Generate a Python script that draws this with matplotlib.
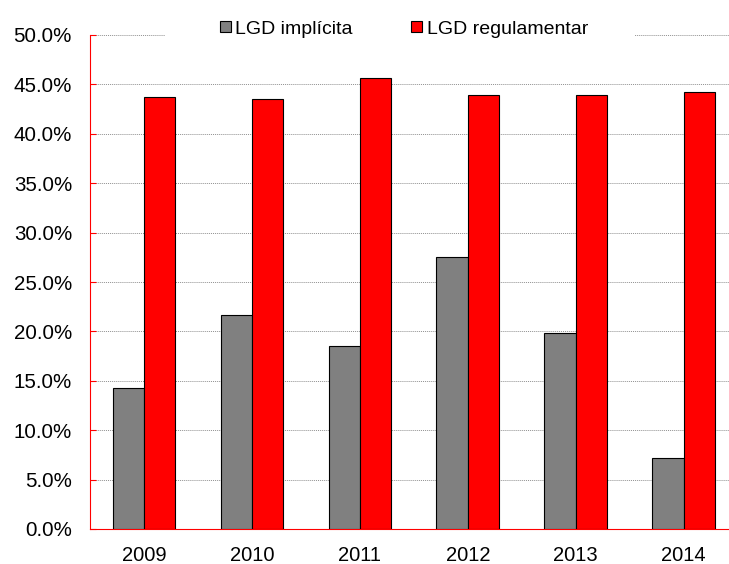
import numpy as np
import matplotlib.pyplot as plt
from matplotlib.ticker import FuncFormatter
from matplotlib.patches import Rectangle

years = ['2009', '2010', '2011', '2012', '2013', '2014']
lgd_implicita = [14.3, 21.7, 18.5, 27.5, 19.8, 7.2]
lgd_regulamentar = [43.7, 43.5, 45.6, 43.9, 43.9, 44.2]

plt.rcParams['font.family'] = ['Liberation Sans', 'DejaVu Sans']

W, H = 729, 564
fig = plt.figure(figsize=(W / 100, H / 100), dpi=100)
ax = fig.add_axes([90 / W, (H - 529) / H, 1 - 90 / W, (529 - 35) / H])

x = np.arange(len(years))
w = 0.29
ax.bar(x - w / 2, lgd_implicita, w, color='#808080', edgecolor='black', linewidth=0.8,
       label='LGD implícita', zorder=3)
ax.bar(x + w / 2, lgd_regulamentar, w, color='#ff0000', edgecolor='black', linewidth=0.8,
       label='LGD regulamentar', zorder=3)

ax.set_ylim(0, 50)
ax.set_yticks(np.arange(0, 50.1, 5))
ax.yaxis.set_major_formatter(FuncFormatter(lambda v, p: f'{v:.1f}%'))
ax.set_xlim(-0.5, 5.42)
ax.set_xticks(x)
ax.set_xticklabels(years)

ax.grid(axis='y', color='#909090', linestyle=(0, (1, 1)), linewidth=0.7, zorder=0)
for s in ['top', 'right']:
    ax.spines[s].set_visible(False)
ax.spines['left'].set_color('red')
ax.spines['bottom'].set_color('red')
ax.tick_params(axis='y', direction='in', color='red', length=4, labelsize=14.8, pad=13)
ax.tick_params(axis='x', length=0, labelsize=14.5, pad=12)

# white area behind the legend hides the top gridline
fig.patches.append(Rectangle((165 / W, 1 - 45 / H), (635 - 165) / W, 45 / H,
                             transform=fig.transFigure, facecolor='white',
                             edgecolor='none', zorder=1))

leg = fig.legend(loc='center', bbox_to_anchor=(404 / W, 1 - 29 / H), ncol=2,
                 frameon=False, fontsize=14, handlelength=0.55, handleheight=0.55,
                 handletextpad=0.25, columnspacing=3.0, borderpad=0.2)
leg.set_zorder(2)

fig.savefig('out.png', dpi=100)
